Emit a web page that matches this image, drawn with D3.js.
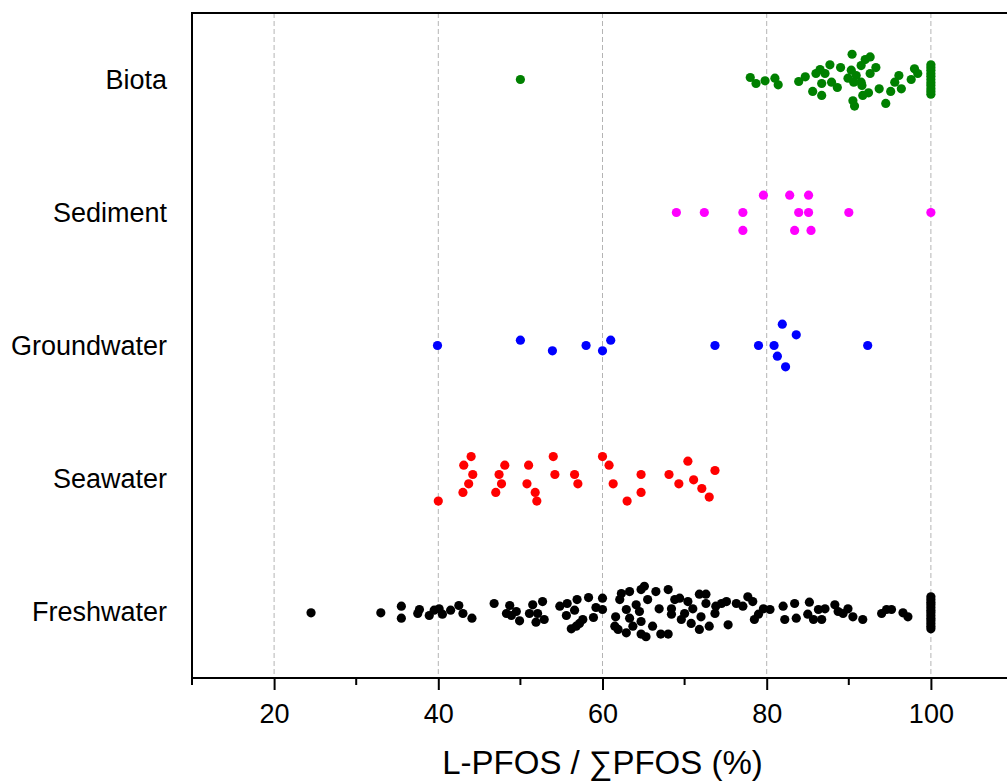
<!DOCTYPE html>
<html><head><meta charset="utf-8">
<script src="https://cdn.jsdelivr.net/npm/d3@7"></script>
<style>body{margin:0;background:#fff;overflow:hidden}svg{display:block}text{font-family:"Liberation Sans",Arial,sans-serif}</style>
</head><body><svg id="c" width="1007" height="783"></svg>
<script>
const categories = ["Freshwater","Seawater","Groundwater","Sediment","Biota"];
const colors = ["#000000","#ff0000","#0000ff","#ff00ff","#008000"];
const xTicks = [20,40,60,80,100];
const xMinorTicks = [10,30,50,70,90];
const xTitle = "L-PFOS / \u2211PFOS (%)";

// jitter: downward offset from the category centre, in category units
const biotaValues = [50,78.0,78.7,79.8,81.0,81.4,83.9,84.7,85.6,86.0,86.5,86.7,86.7,87.1,87.7,87.9,88.6,89.0,89.9,90.3,90.4,90.5,90.7,90.6,90.9,91.5,91.6,91.5,91.7,92.0,92.6,92.4,92.6,93.3,93.7,94.5,95.1,95.6,96.1,96.4,97.6,98.0,98.4,100,100,100,100,100,100,100,100,100,100,100];
const biotaJitter = [0,-0.015,0.03,0.01,-0.01,0.04,0.015,-0.02,0.09,-0.045,-0.075,0.03,0.12,-0.045,-0.11,0.02,0.06,-0.09,-0.01,-0.07,-0.19,0.16,0.2,0.02,-0.03,0.02,0.045,-0.105,0.12,-0.15,-0.17,0.1,-0.045,-0.09,0.07,0.18,0.09,0.02,-0.03,0.07,0,-0.08,-0.045,-0.11,-0.09,-0.07,-0.045,-0.025,0,0.025,0.045,0.07,0.09,0.11];

const sedimentValues = [69.0,72.4,77.1,77.1,79.6,82.8,85.1,83.9,85.1,83.4,85.4,90.0,100];
const sedimentJitter = [0,0,0,0.135,-0.13,-0.13,-0.13,0,0,0.135,0.135,0,0];

const groundwaterValues = [39.9,50.0,53.9,58.0,60.0,61.0,73.7,79.0,80.9,81.9,83.6,81.3,82.3,92.3];
const groundwaterJitter = [0,-0.04,0.04,0,0.04,-0.04,0,0,0,-0.16,-0.08,0.08,0.16,0];

const seawaterValues = [40.0,43.0,43.7,44.2,43.1,44.0,47.0,47.7,47.4,48.1,50.8,51.8,52.0,51.0,54.0,54.2,56.6,57.0,60.0,60.8,61.3,63.0,64.7,64.7,68.1,69.3,70.4,71.1,72.1,73.0,73.7];
const seawaterJitter = [0.17,0.105,0.04,-0.03,-0.1,-0.165,0.105,0.04,-0.03,-0.1,0.04,0.105,0.17,-0.1,-0.165,-0.03,-0.03,0.04,-0.165,-0.1,0.04,0.17,0.105,-0.03,-0.03,0.04,-0.13,0.01,0.075,0.14,-0.06];

const freshwaterValues = [24.5,33.0,35.5,35.5,37.7,37.5,38.9,39.5,40.1,40.5,41.5,42.5,43.0,44.1,46.8,48.7,48.3,48.9,49.5,49.9,51.5,52.7,51.1,52.1,52.9,51.9,54.8,55.7,56.6,55.6,56.9,56.8,57.6,58.3,58.9,59.2,57.2,56.2,60.0,60.0,61.6,61.5,62.1,62.3,63.3,62.9,63.3,61.9,62.9,63.7,64.1,64.5,64.7,65.1,64.7,65.3,64.7,65.5,66.1,66.5,66.9,67.1,68.0,68.0,68.4,68.4,68.8,69.4,69.6,70.0,70.4,70.8,71.0,71.8,71.8,72.0,72.6,72.6,73.0,73.8,73.7,74.5,75.1,75.3,76.3,77.1,77.7,78.3,78.5,79.6,79.0,80.4,82.0,82.2,83.4,83.6,85.2,85.0,85.7,86.3,86.7,87.1,88.3,88.7,89.3,89.9,90.5,91.7,94.0,94.6,95.2,96.6,97.2,100,100,100,100,100,100,100,100,100,100,100,100,100];
const freshwaterJitter = [0.01,0.01,-0.04,0.05,-0.015,0.015,0.03,-0.01,-0.02,0.02,-0.01,-0.045,0.015,0.05,-0.06,-0.045,0.015,0.03,0,0.07,-0.05,-0.075,0.015,0.015,0.06,0.08,-0.04,-0.06,-0.01,0.03,-0.09,0.11,0.06,-0.105,0.045,-0.03,0.09,0.13,-0.1,-0.015,0.04,0.11,-0.09,-0.135,-0.15,-0.015,0.05,0.135,0.16,0.11,-0.05,0,-0.165,-0.19,0.075,0.19,0.17,-0.09,0.11,-0.15,-0.02,0.17,-0.165,0.17,-0.02,0.02,-0.09,-0.1,0.06,0.015,-0.075,0.09,-0.02,-0.13,0.135,0.04,-0.13,-0.06,0.11,-0.04,0.015,-0.06,-0.075,0.1,-0.06,-0.04,-0.11,-0.075,0.06,-0.02,0.02,-0.015,-0.04,0.06,-0.06,0.05,-0.07,0.02,0.06,-0.015,0.06,-0.02,-0.05,0,0.015,-0.02,0.04,0.06,0.015,-0.015,-0.015,0.01,0.04,-0.11,-0.09,-0.07,-0.05,-0.03,-0.01,0.01,0.03,0.05,0.07,0.09,0.11,0.13];

const groups = [
  {values: freshwaterValues, jitter: freshwaterJitter},
  {values: seawaterValues, jitter: seawaterJitter},
  {values: groundwaterValues, jitter: groundwaterJitter},
  {values: sedimentValues, jitter: sedimentJitter},
  {values: biotaValues, jitter: biotaJitter}
];

const svg = d3.select("#c");
const L = 192, T = 13, B = 678, R = 1013;
const x = d3.scaleLinear().domain([10,110]).range([L,R]);
const y = d3.scaleLinear().domain([-0.5,4.5]).range([B,T]);

// grid
svg.append("g").selectAll("line").data(xTicks).join("line")
  .attr("x1",d=>x(d)).attr("x2",d=>x(d)).attr("y1",T).attr("y2",B)
  .attr("stroke","#b4b4b4").attr("stroke-width",1).attr("stroke-dasharray","5,3");

// points
groups.forEach((g,i)=>{
  const pts = g.values.map((v,j)=>({v, c:i-g.jitter[j]}));
  svg.append("g").selectAll("circle").data(pts).join("circle")
    .attr("cx",d=>x(d.v)).attr("cy",d=>y(d.c)).attr("r",4.6)
    .attr("fill",colors[i]);
});

// frame
svg.append("path").attr("d",`M${L},${B}V${T}H${R+5}`).attr("fill","none").attr("stroke","#000").attr("stroke-width",2);

// x axis
const ax = svg.append("g").attr("transform",`translate(0,${B})`)
  .call(d3.axisBottom(x).tickValues(xTicks).tickSize(12).tickSizeOuter(0).tickFormat(d3.format("d")));
ax.select(".domain").attr("stroke-width",2).attr("d",`M${L-1},0H${R+5}`);
ax.selectAll(".tick line").attr("stroke-width",2);
ax.selectAll(".tick text").attr("font-size",27).attr("dy","1.12em").attr("fill","#000").attr("font-family","Liberation Sans, Arial, sans-serif");
svg.append("g").selectAll("line").data(xMinorTicks).join("line")
  .attr("x1",d=>x(d)).attr("x2",d=>x(d)).attr("y1",B).attr("y2",B+7)
  .attr("stroke","#000").attr("stroke-width",2);

// y labels
svg.append("g").selectAll("text").data(categories).join("text")
  .attr("x",L-25).attr("y",(d,i)=>y(i)).attr("dy","0.35em")
  .attr("text-anchor","end").attr("font-size",27).text(d=>d);

// x title
svg.append("text").attr("x",x(60)).attr("y",774).attr("text-anchor","middle").attr("font-size",33).text(xTitle);
</script></body></html>
